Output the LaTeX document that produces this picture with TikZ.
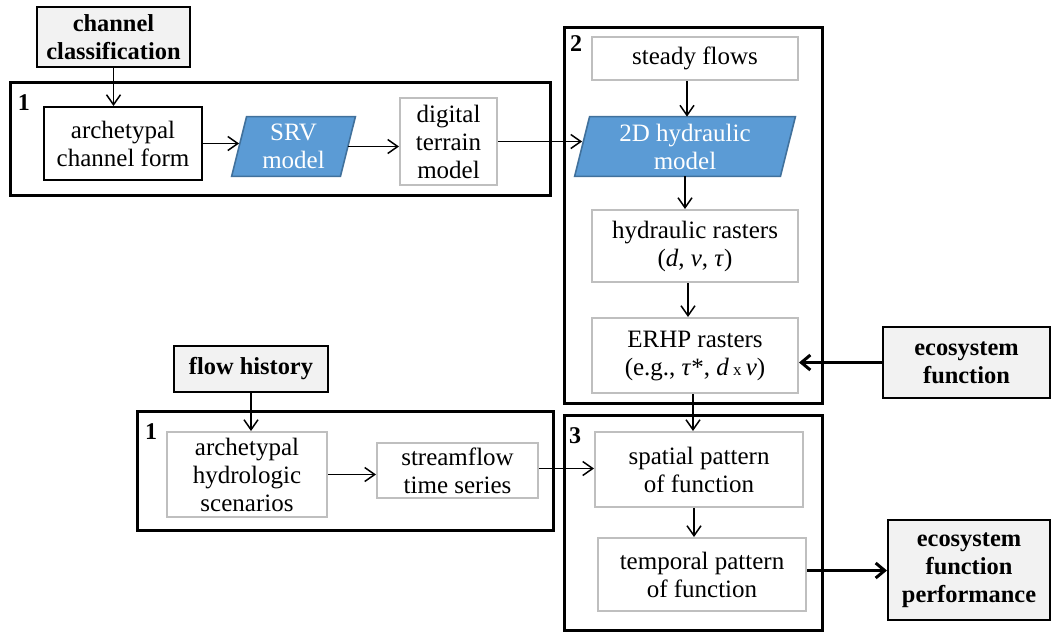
\documentclass[tikz,border=0pt]{standalone}
\usepackage{fontspec}
\setmainfont{Liberation Serif}
\usetikzlibrary{arrows.meta,calc,backgrounds}
\definecolor{blfill}{HTML}{5B9BD5}
\definecolor{bldraw}{HTML}{41719C}
\definecolor{gbord}{HTML}{BFBFBF}
\definecolor{gfill}{HTML}{F2F2F2}
\tikzset{
  base/.style={inner sep=0pt, align=center, font=\fontsize{12.5}{14}\selectfont},
  blackbox/.style={base, draw=black, line width=1pt, fill=white},
  graybox/.style={base, draw=gbord, line width=1pt, fill=white},
  keybox/.style={base, draw=black, line width=1pt, fill=gfill, font=\fontsize{12.2}{14}\selectfont\bfseries},
  group/.style={draw=black, line width=1.5pt, inner sep=0pt},
  grouplabel/.style={inner sep=0pt, font=\fontsize{12}{13}\selectfont\bfseries},
  bluetext/.style={base, text=white},
  blueshape/.style={fill=blfill, draw=bldraw, line width=0.8pt},
  arr/.style={line width=0.75pt, -{Straight Barb[length=5pt,width=7pt,line width=0.75pt]}},
  thickarr/.style={line width=1.5pt, -{Straight Barb[length=4.5pt,width=7.5pt,line width=1.5pt]}}
}
\begin{document}
\begin{tikzpicture}[x=0.5pt,y=-0.5pt]
\useasboundingbox (0,0) rectangle (1053,634);

% group frames
\node[group, minimum width=270pt, minimum height=56.5pt] (g1) at (280,138.5) {};
\node[group, minimum width=129pt, minimum height=188pt] (g2) at (693,215) {};
\node[group, minimum width=129pt, minimum height=107.5pt] (g3) at (693,522.5) {};
\node[group, minimum width=208pt, minimum height=59.5pt] (g4) at (345,470.5) {};
\node[grouplabel] (l1) at (24,103) {1};
\node[grouplabel] (l2) at (576,44) {2};
\node[grouplabel] (l3) at (575,436) {3};
\node[grouplabel] (l4) at (151,432) {1};

% top-left chain
\node[keybox, minimum width=76.5pt, minimum height=30pt] (cc) at (113.5,37) {channel\\classification};
\node[blackbox, minimum width=79pt, minimum height=36.5pt] (acf) at (123,143.5) {archetypal\\channel form};
\node[bluetext, minimum width=54pt, minimum height=29.5pt] (srv) at (293.5,146.5) {SRV\\model};
\node[graybox, minimum width=48.5pt, minimum height=43.5pt] (dtm) at (448.5,141.5) {digital\\terrain\\model};

% box 2
\node[graybox, minimum width=103pt, minimum height=21.5pt] (sf) at (695,58.5) {steady flows};
\node[bluetext, minimum width=102.5pt, minimum height=29.5pt] (hyd) at (685,146.5) {2D hydraulic\\model};
\node[graybox, minimum width=103pt, minimum height=36pt] (hr) at (695,246) {hydraulic rasters\\(\textit{d}, \textit{v}, \textit{τ})};
\node[graybox, minimum width=103pt, minimum height=37.5pt] (erhp) at (695,355.5) {ERHP rasters\\(e.g., \textit{τ}*, \textit{d}\,{\fontsize{8.5}{10}\selectfont x}\,\textit{v})};
\node[keybox, minimum width=83.5pt, minimum height=35.5pt] (ef) at (966.5,362.5) {ecosystem\\function};

% box 3
\node[graybox, minimum width=104pt, minimum height=37.5pt] (sp) at (699,469.5) {spatial pattern\\of function};
\node[graybox, minimum width=104pt, minimum height=36.5pt] (tp) at (702,574.5) {temporal pattern\\of function};
\node[keybox, minimum width=81pt, minimum height=50pt] (efp) at (969,570) {ecosystem\\function\\performance};

% bottom-left
\node[keybox, minimum width=77pt, minimum height=23pt] (fh) at (251,369) {flow history};
\node[graybox, minimum width=80pt, minimum height=42.5pt] (ahs) at (247,474.5) {archetypal\\hydrologic\\scenarios};
\node[graybox, minimum width=80.5pt, minimum height=27.5pt] (sts) at (457.5,470.5) {streamflow\\time series};

% parallelograms
\begin{scope}[on background layer]
\draw[blueshape] ($(srv.south west)+(-7.5,0)$) -- ($(srv.north west)+(7.5,0)$) -- ($(srv.north east)+(7.5,0)$) -- ($(srv.south east)+(-7.5,0)$) -- cycle;
\draw[blueshape] ($(hyd.south west)+(-7.5,0)$) -- ($(hyd.north west)+(7.5,0)$) -- ($(hyd.north east)+(7.5,0)$) -- ($(hyd.south east)+(-7.5,0)$) -- cycle;
\end{scope}

% connectors
\draw[arr] (cc.south) -- (cc.south |- acf.north);
\draw[arr] (acf.east) -- (acf.east -| srv.west);
\draw[arr] (srv.east) -- (srv.east -| dtm.west);
\draw[arr] (dtm.east) -- (dtm.east -| hyd.west);
\draw[arr] ([xshift=-4pt]sf.south) -- ([xshift=-4pt]sf.south |- hyd.north);
\draw[arr] (hyd.south) -- (hyd.south |- hr.north);
\draw[arr] ([xshift=-3.5pt]hr.south) -- ([xshift=-3.5pt]hr.south |- erhp.north);
\draw[thickarr] (ef.west) -- (ef.west -| erhp.east);
\draw[arr] ([xshift=-1pt]erhp.south) -- ([xshift=-1pt]erhp.south |- sp.north);
\draw[arr] ([xshift=-2.5pt]sp.south) -- ([xshift=-2.5pt]sp.south |- tp.north);
\draw[thickarr] ([yshift=2pt]tp.east) -- ([yshift=2pt]tp.east -| efp.west);
\draw[arr] (fh.south) -- (fh.south |- ahs.north);
\draw[arr] (ahs.east) -- (ahs.east -| sts.west);
\draw[arr] ([yshift=1pt]sts.east) -- ([yshift=1pt]sts.east -| sp.west);
\end{tikzpicture}
\end{document}
